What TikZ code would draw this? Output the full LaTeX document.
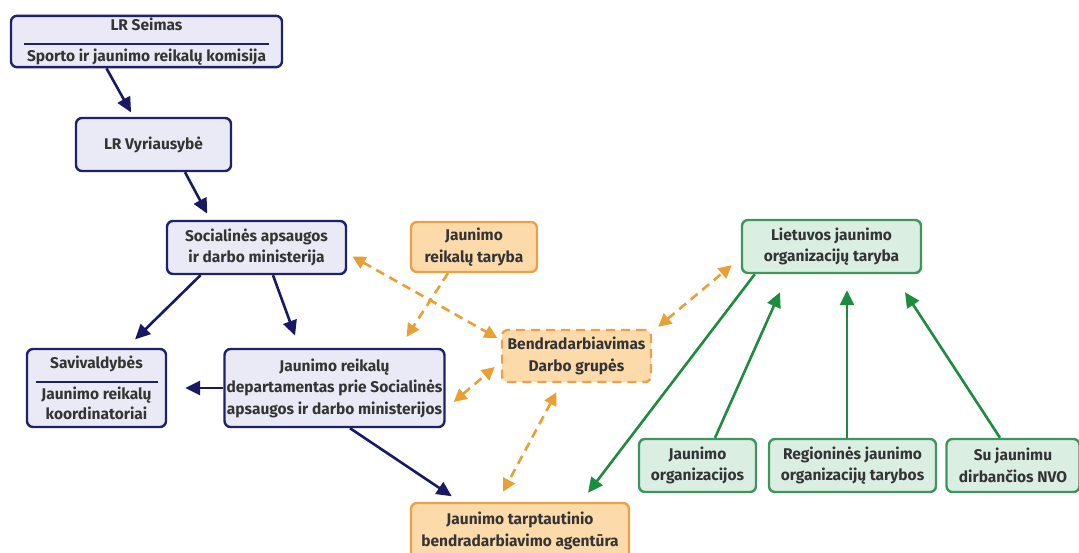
\documentclass[tikz,border=0pt]{standalone}
\usepackage{fontspec}
\setmainfont{Fira Sans}
\usetikzlibrary{arrows.meta}
\definecolor{navyLine}{RGB}{32,32,110}
\definecolor{navyFill}{RGB}{234,234,246}
\definecolor{navyArrow}{RGB}{24,24,100}
\definecolor{orangeLine}{RGB}{238,160,72}
\definecolor{orangeFill}{RGB}{252,218,170}
\definecolor{orangeArrow}{RGB}{232,160,52}
\definecolor{greenLine}{RGB}{62,150,92}
\definecolor{greenFill}{RGB}{218,238,226}
\definecolor{greenArrow}{RGB}{28,140,62}
\definecolor{textGray}{RGB}{52,52,52}
\newcommand\boxLineWidth{2.4pt}
\newcommand\boxRule[1]{\\[-7pt]\textcolor{navyLine}{\rule{#1}{2.2pt}}\\[-5pt]}
\tikzset{
	box/.style={rounded corners=6pt, line width=\boxLineWidth, align=center, inner sep=2pt,
		font=\fontsize{15.5}{21.5}\selectfont\bfseries, text=textGray},
	navybox/.style={box, draw=navyLine, fill=navyFill},
	orangebox/.style={box, draw=orangeLine, fill=orangeFill},
	greenbox/.style={box, draw=greenLine, fill=greenFill},
	navyarrow/.style={line width=2.6pt, draw=navyArrow, -{Triangle[length=15pt,width=14pt]}},
	greenarrow/.style={line width=2.6pt, draw=greenArrow, -{Triangle[length=15pt,width=14pt]}},
	orangeline/.style={line width=2.6pt, draw=orangeArrow, dash pattern=on 9pt off 6pt,
		-{Triangle[length=13pt,width=13pt]}},
	orangearrow/.style={orangeline,
		{Triangle[length=13pt,width=13pt]}-{Triangle[length=13pt,width=13pt]}},
}

\begin{document}
\begin{tikzpicture}[x=1pt,y=1pt]
	\useasboundingbox (0,0) rectangle (1079,-553);
	\clip (0,0) rectangle (1079,-553);

	\node[navybox, minimum width=271, minimum height=51] (seimas) at (146.5,-41.5)
		{LR Seimas\boxRule{245pt}Sporto ir jaunimo reikalų komisija};
	\node[navybox, minimum width=155, minimum height=53] (vyriausybe) at (153.5,-144.5) {LR Vyriausybė};
	\node[navybox, minimum width=179, minimum height=53] (ministerija) at (256.5,-247.5)
		{Socialinės apsaugos\\ir darbo ministerija};
	\node[navybox, minimum width=139, minimum height=78] (savivaldybes) at (96.5,-388)
		{Savivaldybės\boxRule{122pt}Jaunimo reikalų\\[-2pt]koordinatoriai};
	\node[navybox, minimum width=219, minimum height=78] (departamentas) at (334.5,-388)
		{Jaunimo reikalų\\departamentas prie Socialinės\\apsaugos ir darbo ministerijos};

	\node[orangebox, minimum width=126, minimum height=50] (taryba) at (474,-247)
		{Jaunimo\\reikalų taryba};
	\node[orangebox, dash pattern=on 9pt off 6pt, minimum width=149, minimum height=52] (bendradarbiavimas) at (576.5,-356)
		{Bendradarbiavimas\\Darbo grupės};
	\node[orangebox, minimum width=218, minimum height=56] (agentura) at (520,-531)
		{Jaunimo tarptautinio\\bendradarbiavimo agentūra};

	\node[greenbox, minimum width=179, minimum height=53] (lietuvos) at (831.5,-246.5)
		{Lietuvos jaunimo\\organizacijų taryba};
	\node[greenbox, minimum width=117, minimum height=53] (organizacijos) at (697.5,-465.5)
		{Jaunimo\\organizacijos};
	\node[greenbox, minimum width=167, minimum height=53] (regionines) at (852.5,-465.5)
		{Regioninės jaunimo\\organizacijų tarybos};
	\node[greenbox, minimum width=133, minimum height=53] (nvo) at (1013,-465.5)
		{Su jaunimu\\dirbančios NVO};

	\draw[navyarrow, shorten >=5pt] ([xshift=-40pt]seimas.south) -- ([xshift=-20pt]vyriausybe.north);
	\draw[navyarrow, shorten >=7pt] ([xshift=31.5pt]vyriausybe.south) -- ([xshift=-46pt]ministerija.north);
	\draw[navyarrow, shorten >=12pt] ([xshift=-56pt]ministerija.south) -- ([xshift=30pt]savivaldybes.north);
	\draw[navyarrow, shorten >=13pt] ([xshift=16.5pt]ministerija.south) -- ([xshift=-35pt]departamentas.north);
	\draw[navyarrow, shorten >=18pt] (departamentas.west) -- (savivaldybes.east);
	\draw[navyarrow, shorten >=10pt] ([xshift=15.5pt]departamentas.south) -- ([xshift=-60pt]agentura.north);

	\draw[orangearrow, shorten <=6pt, shorten >=4pt] ([yshift=-6pt]ministerija.east) -- ([yshift=16pt]bendradarbiavimas.west);
	\draw[orangeline, shorten >=13pt] ([xshift=-26pt]taryba.south) -- ([xshift=65pt]departamentas.north);
	\draw[orangearrow] ([shift={(8pt,-14pt)}]departamentas.east) -- ([shift={(-6pt,-11pt)}]bendradarbiavimas.west);
	\draw[orangearrow] ([shift={(6pt,2pt)}]bendradarbiavimas.north east) -- ([shift={(-9pt,9pt)}]lietuvos.south west);
	\draw[orangearrow] ([shift={(-20pt,-9pt)}]bendradarbiavimas.south) -- ([shift={(-17pt,10pt)}]agentura.north);

	\draw[greenarrow] ([xshift=14pt]lietuvos.south west) -- ([shift={(68pt,9pt)}]agentura.north);
	\draw[greenarrow] ([xshift=17.5pt]organizacijos.north) -- ([shift={(-51.5pt,-18pt)}]lietuvos.south);
	\draw[greenarrow] ([xshift=-5.5pt]regionines.north) -- ([shift={(15.5pt,-16pt)}]lietuvos.south);
	\draw[greenarrow] ([xshift=-13pt]nvo.north) -- ([shift={(73.5pt,-18pt)}]lietuvos.south);
\end{tikzpicture}
\end{document}
